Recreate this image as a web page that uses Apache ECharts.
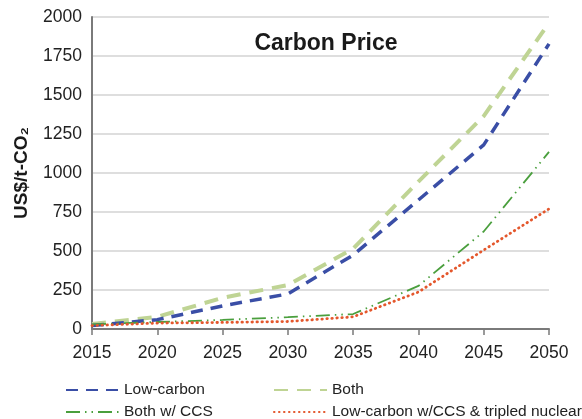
<!DOCTYPE html>
<html>
<head>
<meta charset="utf-8">
<script src="https://cdn.jsdelivr.net/npm/echarts@6/dist/echarts.min.js"></script>
<style>
html,body{margin:0;padding:0;background:#fff;}
#c{width:582px;height:419px;}
</style>
</head>
<body>
<div id="c"></div>
<script>
var years = [2015, 2020, 2025, 2030, 2035, 2040, 2045, 2050];
var lowCarbon = [22, 60, 148, 225, 474, 827, 1180, 1828];
var both = [32, 78, 200, 282, 515, 945, 1365, 1962];
var bothCCS = [30, 45, 58, 76, 96, 276, 625, 1135];
var lowCarbonCCSNuclear = [22, 38, 42, 48, 78, 237, 506, 770];
var seriesNames = ['Low-carbon', 'Both', 'Both w/ CCS', 'Low-carbon w/CCS & tripled nuclear'];

function pairs(v){ return years.map(function(y,i){ return [y, v[i]]; }); }

var font = 'Liberation Sans, Arial, Helvetica, sans-serif';
var legendPos = [[65, 382], [273, 382], [65, 404], [273, 404]];
var legends = seriesNames.map(function(n, i){
  return {
    left: legendPos[i][0], top: legendPos[i][1], padding: 0, itemWidth: 53, itemHeight: 14, itemGap: 5,
    itemStyle: { opacity: 0 },
    textStyle: { fontFamily: font, fontSize: 15.5, color: '#222' },
    data: [n]
  };
});

var chart = echarts.init(document.getElementById('c'));
chart.setOption({
  animation: false,
  backgroundColor: '#ffffff',
  textStyle: { fontFamily: font },
  title: {
    text: 'Carbon Price',
    left: 321, top: 27, textAlign: 'center',
    textStyle: { fontFamily: font, fontWeight: 'bold', fontSize: 23, color: '#1a1a1a' }
  },
  grid: { left: 92, right: 33, top: 17, bottom: 90, containLabel: false },
  legend: legends,
  xAxis: {
    type: 'value', min: 2015, max: 2050, interval: 5,
    axisLine: { lineStyle: { color: '#7a7a7a', width: 2 } },
    axisTick: { show: true, length: 6, lineStyle: { color: '#7a7a7a', width: 1.5 } },
    axisLabel: { fontFamily: font, fontSize: 17.5, color: '#222', margin: 15, formatter: function(v){ return String(v); } },
    splitLine: { show: false }
  },
  yAxis: {
    type: 'value', min: 0, max: 2000, interval: 250,
    name: 'US$/t-CO\u2082', nameLocation: 'middle', nameGap: 61,
    nameTextStyle: { fontFamily: font, fontWeight: 'bold', fontSize: 19, color: '#1a1a1a' },
    axisLine: { show: true, lineStyle: { color: '#7a7a7a', width: 2 } },
    axisTick: { show: false },
    axisLabel: { fontFamily: font, fontSize: 17.5, color: '#222', margin: 10, formatter: function(v){ return String(v); } },
    splitLine: { lineStyle: { color: '#d3d3d3', width: 1.5 } }
  },
  series: [
    {
      name: seriesNames[0], type: 'line', data: pairs(lowCarbon), symbol: 'none', z: 3,
      itemStyle: { color: '#3a4ea6' },
      lineStyle: { color: '#3a4ea6', width: 3.5, type: [12, 8] }
    },
    {
      name: seriesNames[1], type: 'line', data: pairs(both), symbol: 'none', z: 2,
      itemStyle: { color: '#bfd494' },
      lineStyle: { color: '#bfd494', width: 4, type: [14, 9] }
    },
    {
      name: seriesNames[2], type: 'line', data: pairs(bothCCS), symbol: 'none', z: 4,
      itemStyle: { color: '#4a9f3d' },
      lineStyle: { color: '#4a9f3d', width: 1.8, type: [14, 5, 1.5, 5, 1.5, 5] }
    },
    {
      name: seriesNames[3], type: 'line', data: pairs(lowCarbonCCSNuclear), symbol: 'none', z: 5,
      itemStyle: { color: '#e4572c' },
      lineStyle: { color: '#e4572c', width: 2.8, type: [0.5, 4.5], cap: 'round' }
    }
  ]
});
</script>
</body>
</html>
